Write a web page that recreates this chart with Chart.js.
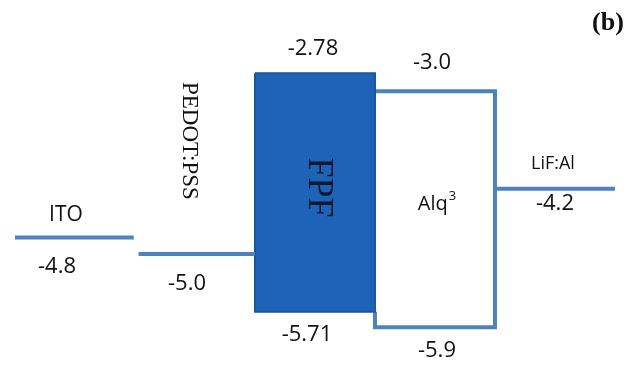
<!DOCTYPE html>
<html>
<head>
<meta charset="utf-8">
<script src="https://cdn.jsdelivr.net/npm/chart.js@4.4.0/dist/chart.umd.min.js"></script>
<style>
  html, body { margin: 0; padding: 0; background: #ffffff; }
  #wrap { width: 635px; height: 367px; }
</style>
</head>
<body>
<div id="wrap"><canvas id="c" width="635" height="367"></canvas></div>
<script>
// Device layers, left to right
const layers = ['ITO', 'PEDOT:PSS', 'FPF', 'Alq³', 'LiF:Al'];
// Electrode / hole-transport work functions (eV)
const workFunction = { ITO: -4.8, 'PEDOT:PSS': -5.0, 'LiF:Al': -4.2 };
// Frontier orbital levels of the organic layers (eV)
const lumo = { FPF: -2.78, 'Alq³': -3.0 };
const homo = { FPF: -5.71, 'Alq³': -5.9 };

const LINE = '#4f81bd';
const FPF_FILL = '#1f63b8';
const FPF_EDGE = '#1a56a0';

const idx = name => layers.indexOf(name);
const fmt = v => v.toFixed(String(v).split('.')[1] ? String(v).split('.')[1].length : 1);

const datasets = [
  {
    label: 'ITO',
    data: [{ x: idx('ITO'), y: workFunction.ITO }, { x: idx('ITO') + 0.99, y: workFunction.ITO }],
    borderColor: LINE, borderWidth: 4
  },
  {
    label: 'PEDOT:PSS',
    data: [{ x: idx('PEDOT:PSS') + 0.03, y: workFunction['PEDOT:PSS'] }, { x: idx('PEDOT:PSS') + 1, y: workFunction['PEDOT:PSS'] }],
    borderColor: LINE, borderWidth: 4
  },
  {
    label: 'FPF',
    data: [
      { x: idx('FPF'), y: lumo.FPF }, { x: idx('FPF') + 1, y: lumo.FPF },
      { x: idx('FPF') + 1, y: homo.FPF }, { x: idx('FPF'), y: homo.FPF },
      { x: idx('FPF'), y: lumo.FPF }
    ],
    borderColor: FPF_EDGE, borderWidth: 2, backgroundColor: FPF_FILL, fill: 'shape'
  },
  {
    label: 'Alq³',
    data: [
      { x: idx('Alq³'), y: homo.FPF }, { x: idx('Alq³'), y: homo['Alq³'] },
      { x: idx('Alq³') + 1, y: homo['Alq³'] }, { x: idx('Alq³') + 1, y: lumo['Alq³'] },
      { x: idx('Alq³'), y: lumo['Alq³'] }
    ],
    borderColor: LINE, borderWidth: 4, borderJoinStyle: 'miter'
  },
  {
    label: 'LiF:Al',
    data: [{ x: idx('LiF:Al'), y: workFunction['LiF:Al'] }, { x: idx('LiF:Al') + 1, y: workFunction['LiF:Al'] }],
    borderColor: LINE, borderWidth: 4
  }
];
datasets.forEach(d => Object.assign(d, { showLine: true, pointRadius: 0, borderCapStyle: 'butt', tension: 0, fill: d.fill || false }));

const SANS = '"Open Sans", "Liberation Sans", sans-serif';
const SERIF = '"Liberation Serif", "DejaVu Serif", serif';

// Text annotations placed from the scale positions of the levels they describe
const labelPlugin = {
  id: 'levelLabels',
  afterDatasetsDraw(chart) {
    const { ctx, scales: { x, y } } = chart;
    const cx = name => x.getPixelForValue(idx(name) + 0.5);
    const text = (str, px, py, font, color = '#111') => {
      ctx.save();
      ctx.font = font; ctx.fillStyle = color;
      ctx.textAlign = 'center'; ctx.textBaseline = 'middle';
      ctx.fillText(str, px, py);
      ctx.restore();
    };
    const vtext = (str, px, py, font, color = '#111') => {
      ctx.save();
      ctx.translate(px, py); ctx.rotate(Math.PI / 2);
      ctx.font = font; ctx.fillStyle = color;
      ctx.textAlign = 'center'; ctx.textBaseline = 'middle';
      ctx.fillText(str, 0, 0);
      ctx.restore();
    };
    // base text with a raised superscript, centred as a whole
    const supText = (base, sup, px, py) => {
      ctx.save();
      ctx.fillStyle = '#111'; ctx.textBaseline = 'middle'; ctx.textAlign = 'left';
      ctx.font = `20px ${SANS}`;
      const wb = ctx.measureText(base).width;
      ctx.font = `13px ${SANS}`;
      const ws = ctx.measureText(sup).width;
      const left = px - (wb + ws + 1) / 2;
      ctx.font = `20px ${SANS}`;
      ctx.fillText(base, left, py);
      ctx.font = `13px ${SANS}`;
      ctx.fillText(sup, left + wb + 1, py - 8);
      ctx.restore();
    };

    // ITO
    let yy = y.getPixelForValue(workFunction.ITO);
    text('ITO', cx('ITO') - 9, yy - 23, `21px ${SANS}`);
    text(fmt(workFunction.ITO), cx('ITO') - 18, yy + 29, `22px ${SANS}`);

    // PEDOT:PSS
    yy = y.getPixelForValue(workFunction['PEDOT:PSS']);
    text(fmt(workFunction['PEDOT:PSS']), cx('PEDOT:PSS') - 8, yy + 30, `22px ${SANS}`);
    vtext('PEDOT:PSS', cx('PEDOT:PSS') - 6, yy - 113, `23px ${SERIF}`);

    // FPF
    const fTop = y.getPixelForValue(lumo.FPF), fBot = y.getPixelForValue(homo.FPF);
    text(fmt(lumo.FPF), cx('FPF') - 2, fTop - 25, `22px ${SANS}`);
    text(fmt(homo.FPF), cx('FPF') - 8, fBot + 23, `22px ${SANS}`);
    vtext('FPF', cx('FPF') + 3, (fTop + fBot) / 2 - 5, `36px ${SERIF}`, '#0d1a2e');

    // Alq3
    const aTop = y.getPixelForValue(lumo['Alq³']), aBot = y.getPixelForValue(homo['Alq³']);
    text(fmt(lumo['Alq³']), cx('Alq³') - 3, aTop - 28, `22px ${SANS}`);
    supText('Alq', '3', cx('Alq³') + 2, (aTop + aBot) / 2 - 5);
    text(fmt(homo['Alq³']), cx('Alq³') + 2, aBot + 24, `22px ${SANS}`);

    // LiF:Al
    yy = y.getPixelForValue(workFunction['LiF:Al']);
    text('LiF:Al', cx('LiF:Al') - 2, yy - 25, `18px ${SANS}`);
    text(fmt(workFunction['LiF:Al']), cx('LiF:Al'), yy + 15, `22px ${SANS}`);

    // panel tag
    text('(b)', 608, 23, `bold 26px ${SERIF}`);
  }
};

new Chart(document.getElementById('c'), {
  type: 'scatter',
  data: { datasets },
  options: {
    responsive: false,
    animation: false,
    layout: { padding: 0 },
    plugins: { legend: { display: false }, tooltip: { enabled: false } },
    scales: {
      x: { type: 'linear', min: -0.125, max: 5.167, display: false },
      y: { type: 'linear', min: -6.39, max: -1.88, display: false }
    }
  },
  plugins: [labelPlugin]
});
</script>
</body>
</html>
